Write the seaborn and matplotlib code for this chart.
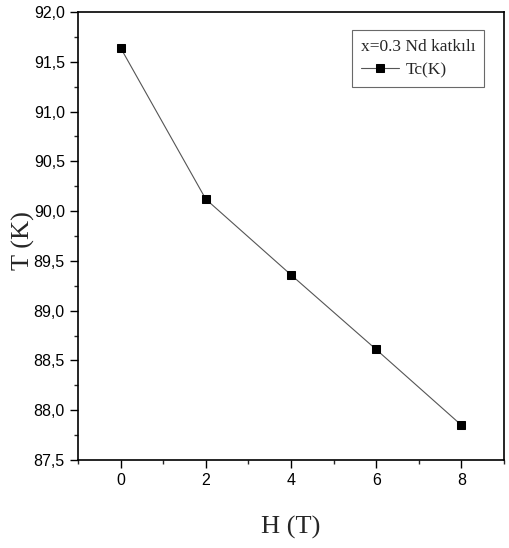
import matplotlib
matplotlib.use("Agg")
import matplotlib.pyplot as plt
import matplotlib.ticker as mticker
import seaborn as sns
import pandas as pd

field = [0, 2, 4, 6, 8]
tc = [91.64, 90.12, 89.36, 88.61, 87.85]
series_label = "Tc(K)"
legend_title = "x=0.3 Nd katkılı"

df = pd.DataFrame({"H": field, "T": tc})

sns.set_style("white")
plt.rcParams["font.family"] = ["Liberation Sans Narrow", "Liberation Sans", "DejaVu Sans"]

fig = plt.figure(figsize=(5.09, 5.48), dpi=100)
ax = fig.add_axes([78 / 509, 88 / 548, 426 / 509, 448 / 548])

sns.lineplot(data=df, x="H", y="T", ax=ax, color="#555555", linewidth=0.8,
             marker="s", markersize=6, markerfacecolor="black",
             markeredgecolor="black", label=series_label)

ax.set_xlim(-1, 9)
ax.set_ylim(87.5, 92.0)
ax.xaxis.set_major_locator(mticker.MultipleLocator(2))
ax.xaxis.set_minor_locator(mticker.MultipleLocator(1))
ax.yaxis.set_major_locator(mticker.MultipleLocator(0.5))
ax.yaxis.set_minor_locator(mticker.MultipleLocator(0.25))
ax.yaxis.set_major_formatter(mticker.FuncFormatter(lambda v, p: f"{v:.1f}".replace(".", ",")))
ax.xaxis.set_major_formatter(mticker.FuncFormatter(lambda v, p: f"{v:.0f}"))

ax.tick_params(which="major", direction="out", length=6, width=1, labelsize=11.5,
               bottom=True, left=True, top=False, right=False, colors="black")
ax.tick_params(which="minor", direction="out", length=3, width=1,
               bottom=True, left=True, top=False, right=False)
for s in ax.spines.values():
    s.set_color("black")
    s.set_linewidth(1.2)

serif = ["Liberation Serif", "DejaVu Serif"]
ax.set_xlabel("H (T)", family=serif, fontsize=19, labelpad=20)
ax.set_ylabel("T (K)", family=serif, fontsize=19)
ax.yaxis.set_label_coords(-0.10, 0.49)

leg = ax.legend(title=legend_title, loc="upper right", bbox_to_anchor=(0.953, 0.96),
                borderaxespad=0, frameon=True, fancybox=False, edgecolor="#444444",
                prop={"family": serif, "size": 12.5}, handlelength=2.2,
                borderpad=0.5, labelspacing=0.45, handletextpad=0.4)
leg.get_title().set_family(serif)
leg.get_title().set_fontsize(12.5)
leg.get_frame().set_linewidth(0.8)
leg._legend_box.align = "left"

fig.savefig("out.png", dpi=100, facecolor="white")
